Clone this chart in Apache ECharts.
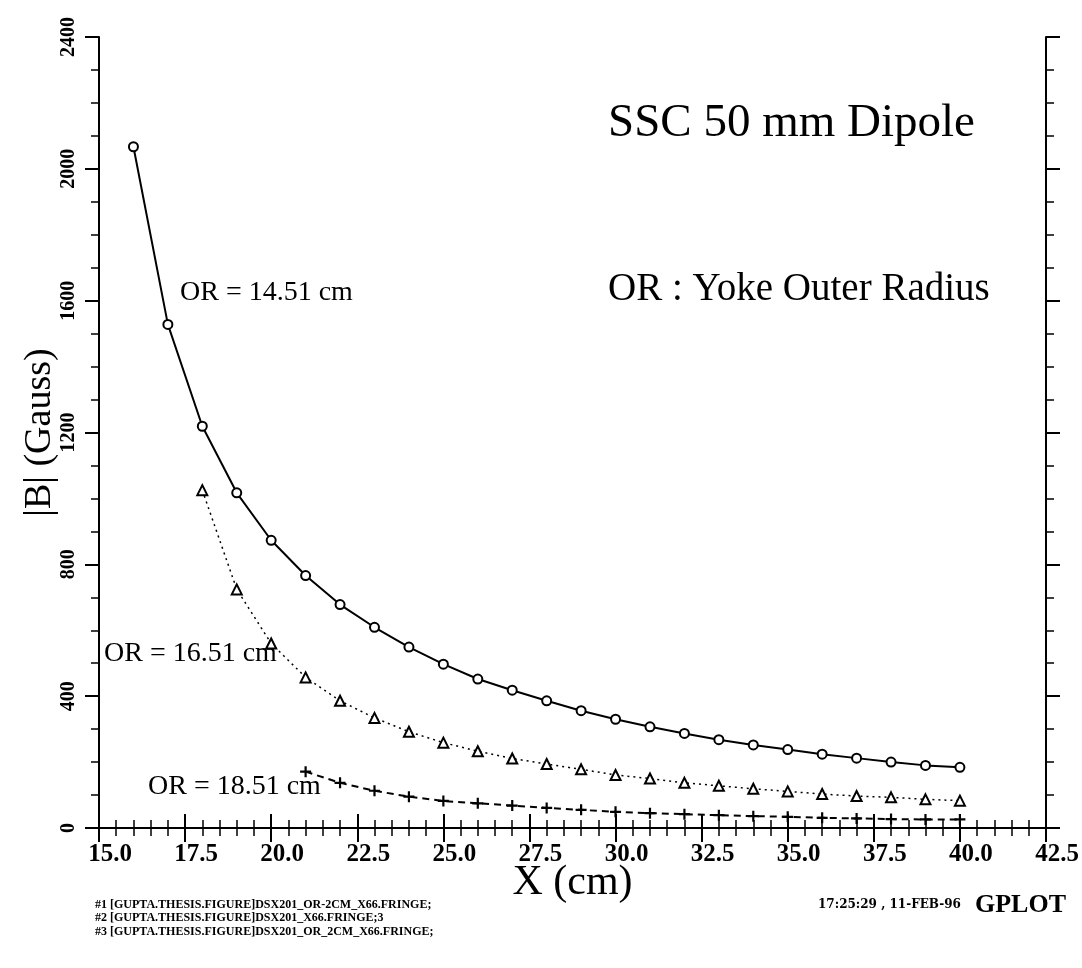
<!DOCTYPE html>
<html>
<head>
<meta charset="utf-8">
<script src="https://cdn.jsdelivr.net/npm/echarts@6/dist/echarts.min.js"></script>
<style>
  html, body { margin: 0; padding: 0; background: #fff; }
  #main { width: 1082px; height: 968px; }
</style>
</head>
<body>
<div id="main"></div>
<script>
// data
var xs14 = [16, 17, 18, 19, 20, 21, 22, 23, 24, 25, 26, 27, 28, 29, 30, 31, 32, 33, 34, 35, 36, 37, 38, 39, 40];
var b14 = [2067, 1528, 1219, 1017, 873, 766, 678, 609, 549, 497, 452, 418, 386, 356, 330, 307, 287, 268, 252, 238, 224, 212, 200, 190, 184];

var xs16 = [18, 19, 20, 21, 22, 23, 24, 25, 26, 27, 28, 29, 30, 31, 32, 33, 34, 35, 36, 37, 38, 39, 40];
var b16 = [1025, 724, 560, 457, 386, 334, 292, 259, 233, 211, 194, 178, 161, 150, 137, 128, 119, 111, 103, 97, 93, 87, 83];

var xs18 = [21, 22, 23, 24, 25, 26, 27, 28, 29, 30, 31, 32, 33, 34, 35, 36, 37, 38, 39, 40];
var b18 = [171, 137, 113, 95, 82, 75, 68, 61, 55, 49, 45, 42, 39, 36, 34, 31, 29, 27, 26, 26];

var footer = [
    '#1 [GUPTA.THESIS.FIGURE]DSX201_OR-2CM_X66.FRINGE;',
    '#2 [GUPTA.THESIS.FIGURE]DSX201_X66.FRINGE;3',
    '#3 [GUPTA.THESIS.FIGURE]DSX201_OR_2CM_X66.FRINGE;'
];

function pairs(xs, ys) {
    return xs.map(function (x, i) { return [x, ys[i]]; });
}

var serif = 'Liberation Serif';
var plus = 'path://M4,0H6V4H10V6H6V10H4V6H0V4H4Z';

var myChart = echarts.init(document.getElementById('main'));

var xBase = {
    type: 'value', min: 15, max: 42.5, interval: 2.5,
    axisLine: { lineStyle: { color: '#000', width: 2 } },
    axisTick: { length: 14, lineStyle: { color: '#000', width: 2 } },
    minorTick: { show: true, splitNumber: 5, length: 8, lineStyle: { color: '#000', width: 1.5 } },
    splitLine: { show: false }
};
var yBase = {
    type: 'value', min: 0, max: 2400, interval: 400,
    axisLine: { lineStyle: { color: '#000', width: 2 } },
    axisTick: { length: 14, lineStyle: { color: '#000', width: 2 } },
    minorTick: { show: true, splitNumber: 4, length: 8, lineStyle: { color: '#000', width: 1.5 } },
    splitLine: { show: false }
};

option = {
    backgroundColor: '#fff',
    animation: false,
    grid: { left: 99, right: 36, top: 37, bottom: 140, containLabel: false, outerBoundsMode: 'none' },
    xAxis: [
        Object.assign({}, xBase, {
            position: 'bottom',
            name: 'X (cm)',
            nameLocation: 'middle',
            nameGap: 34,
            nameMoveOverlap: false,
            nameTextStyle: { fontFamily: serif, fontSize: 42, color: '#000', verticalAlign: 'top' },
            axisLabel: {
                color: '#000', fontFamily: serif, fontWeight: 'bold', fontSize: 25,
                margin: 14, padding: [0, 0, 0, 22],
                showMinLabel: true, showMaxLabel: true,
                formatter: function (v) { return v.toFixed(1); }
            }
        }),
        Object.assign({}, xBase, {
            position: 'top',
            axisLabel: { show: false }
        })
    ],
    yAxis: [
        Object.assign({}, yBase, {
            position: 'left',
            name: '|B| (Gauss)',
            nameLocation: 'middle',
            nameGap: 59,
            nameMoveOverlap: false,
            nameTextStyle: { fontFamily: serif, fontSize: 38, color: '#000', verticalAlign: 'middle' },
            axisLabel: {
                color: '#000', fontFamily: serif, fontWeight: 'bold', fontSize: 20,
                rotate: 90, margin: 20,
                showMinLabel: true, showMaxLabel: true,
                formatter: function (v) { return String(v); }
            }
        }),
        Object.assign({}, yBase, {
            position: 'right',
            axisLabel: { show: false }
        })
    ],
    series: [
        {
            name: 'OR = 14.51 cm',
            type: 'line',
            data: pairs(xs14, b14),
            symbol: 'emptyCircle',
            symbolSize: 9,
            lineStyle: { color: '#000', width: 2 },
            itemStyle: { color: '#000', borderColor: '#000', borderWidth: 2 }
        },
        {
            name: 'OR = 16.51 cm',
            type: 'line',
            data: pairs(xs16, b16),
            symbol: 'emptyTriangle',
            symbolSize: 10,
            lineStyle: { color: '#000', width: 1.5, type: [2, 4] },
            itemStyle: { color: '#000', borderColor: '#000', borderWidth: 2.2 }
        },
        {
            name: 'OR = 18.51 cm',
            type: 'line',
            data: pairs(xs18, b18),
            symbol: plus,
            symbolSize: 11,
            lineStyle: { color: '#000', width: 2, type: [7, 5] },
            itemStyle: { color: '#000' }
        }
    ],
    graphic: [
        { type: 'text', left: 608, top: 100, style: { text: 'SSC 50 mm Dipole', font: '47px "Liberation Serif"', fill: '#000' } },
        { type: 'text', left: 608, top: 270, style: { text: 'OR : Yoke Outer Radius', font: '39px "Liberation Serif"', fill: '#000' } },
        { type: 'text', left: 180, top: 279, style: { text: 'OR = 14.51 cm', font: '28px "Liberation Serif"', fill: '#000' } },
        { type: 'text', left: 104, top: 640, style: { text: 'OR = 16.51 cm', font: '28px "Liberation Serif"', fill: '#000' } },
        { type: 'text', left: 148, top: 773, style: { text: 'OR = 18.51 cm', font: '28px "Liberation Serif"', fill: '#000' } },
        { type: 'text', left: 95, top: 898, style: { text: footer.join('\n'), font: 'bold 12px "Liberation Serif"', lineHeight: 13.5, fill: '#000' } },
        { type: 'text', left: 818, top: 899, style: { text: '17:25:29 , 11-FEB-96', font: 'bold 12px "DejaVu Serif"', fill: '#000' } },
        { type: 'text', left: 975, top: 892, style: { text: 'GPLOT', font: 'bold 26px "Liberation Serif"', fill: '#000' } }
    ]
};
myChart.setOption(option);
</script>
</body>
</html>
